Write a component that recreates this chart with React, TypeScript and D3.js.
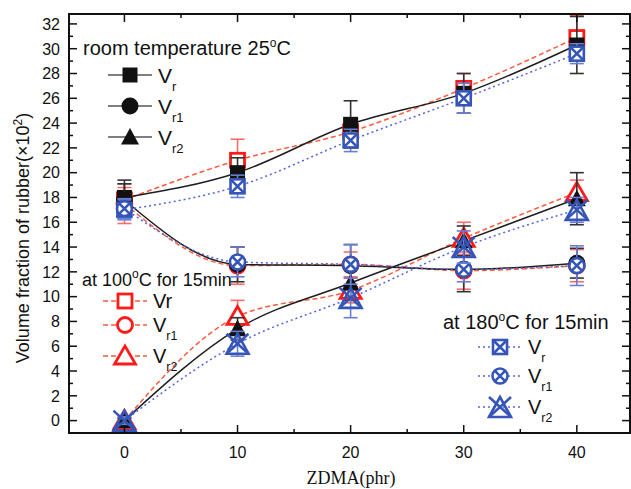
import React from "react";
import * as d3 from "d3";

// ZDMA loading (phr)
const zdma = [0, 10, 20, 30, 40];

// Room temperature 25 °C
const roomVr = [18.0, 20.0, 23.9, 26.4, 30.3];
const roomVrErr = [1.4, 1.2, 1.9, 1.6, 2.3];
const roomVr1 = [17.8, 12.6, 12.5, 12.2, 12.7];
const roomVr1Err = [1.3, 1.4, 1.7, 1.8, 1.2];
const roomVr2 = [0, 7.4, 11.1, 14.5, 17.9];
const roomVr2Err = [0.2, 0.9, 1.4, 1.2, 2.1];

// 100 °C for 15 min
const t100Vr = [17.8, 21.0, 23.3, 26.8, 30.9];
const t100VrErr = [1.0, 1.7, 1.0, 1.2, 1.8];
const t100Vr1 = [17.5, 12.5, 12.6, 12.1, 12.5];
const t100Vr1Err = [1.6, 1.5, 1.0, 1.5, 1.3];
const t100Vr2 = [0, 8.4, 10.5, 14.7, 18.4];
const t100Vr2Err = [0.2, 1.3, 1.0, 1.3, 1.0];

// 180 °C for 15 min
const t180Vr = [17.0, 18.9, 22.6, 26.0, 29.6];
const t180VrErr = [0.8, 0.9, 0.9, 1.2, 0.8];
const t180Vr1 = [17.1, 12.8, 12.6, 12.2, 12.5];
const t180Vr1Err = [0.8, 1.2, 1.6, 1.0, 1.6];
const t180Vr2 = [0, 6.2, 9.9, 14.0, 17.0];
const t180Vr2Err = [0.3, 1.0, 1.6, 1.3, 1.0];

const yMajorTicks = d3.range(0, 33, 2);
const yMinorTicks = d3.range(-1, 33, 1).filter((v) => v % 2 !== 0);
const xMajorTicks = [0, 10, 20, 30, 40];
const xMinorTicks = [5, 15, 25, 35];

const FONT = "Arial, 'Liberation Sans', Helvetica, sans-serif";

const W = 631;
const H = 489;
const left = 69;
const right = 630;
const top = 14;
const bottom = 433;

const x = d3.scaleLinear().domain([-4.9, 44.7]).range([left, right]);
const y = d3.scaleLinear().domain([-1, 32.8]).range([bottom, top]);

type Kind = "sq" | "ci" | "tr";
type Style = "black" | "red" | "blue";

const lineColor: Record<Style, string> = { black: "#1e1e1e", red: "#ff5a3c", blue: "#5566dd" };
const lineDash: Record<Style, string | undefined> = { black: undefined, red: "5,3", blue: "2,3" };
const errColor: Record<Style, string> = { black: "#333", red: "#ff6b6b", blue: "#6a7ed6" };
const markColor: Record<Style, string> = { black: "#111", red: "#ff1a1a", blue: "#3556b8" };

function Marker({ kind, style, cx, cy }: { kind: Kind; style: Style; cx: number; cy: number }) {
  const c = markColor[style];
  if (style === "black") {
    if (kind === "sq") return <rect x={cx - 7.5} y={cy - 7.5} width={15} height={15} fill={c} />;
    if (kind === "ci") return <circle cx={cx} cy={cy} r={8.5} fill={c} />;
    return <path d={`M${cx - 9},${cy + 7.5} L${cx + 9},${cy + 7.5} L${cx},${cy - 9} Z`} fill={c} />;
  }
  if (style === "red") {
    if (kind === "sq")
      return <rect x={cx - 7} y={cy - 7} width={14} height={14} fill="#fff" stroke={c} strokeWidth={2.8} />;
    if (kind === "ci") return <circle cx={cx} cy={cy} r={7.5} fill="#fff" stroke={c} strokeWidth={2.8} />;
    return (
      <path
        d={`M${cx - 10.5},${cy + 8} L${cx + 10.5},${cy + 8} L${cx},${cy - 10} Z`}
        fill="#fff"
        stroke={c}
        strokeWidth={2.8}
        strokeLinejoin="miter"
      />
    );
  }
  // blue: crossed markers
  if (kind === "sq") {
    const h = 7;
    return (
      <g stroke={c} strokeWidth={2.6} fill="#fff">
        <rect x={cx - h} y={cy - h} width={2 * h} height={2 * h} />
        <path d={`M${cx - h},${cy - h} L${cx + h},${cy + h} M${cx + h},${cy - h} L${cx - h},${cy + h}`} />
      </g>
    );
  }
  if (kind === "ci") {
    const r = 7.5;
    const d = r * Math.SQRT1_2;
    return (
      <g stroke={c} strokeWidth={2.6} fill="#fff">
        <circle cx={cx} cy={cy} r={r} />
        <path d={`M${cx - d},${cy - d} L${cx + d},${cy + d} M${cx + d},${cy - d} L${cx - d},${cy + d}`} />
      </g>
    );
  }
  const w = 11;
  const hh = 10;
  return (
    <g stroke={c} strokeWidth={2.6} fill="none">
      <path d={`M${cx - w},${cy + hh} L${cx + w},${cy + hh} L${cx},${cy - hh} Z`} />
      <path d={`M${cx - w},${cy - hh} L${cx + w},${cy + hh} M${cx + w},${cy - hh} L${cx - w},${cy + hh}`} />
    </g>
  );
}

type Series = { kind: Kind; style: Style; values: number[]; errs: number[] };

const seriesList: Series[] = [
  { kind: "sq", style: "red", values: t100Vr, errs: t100VrErr },
  { kind: "ci", style: "red", values: t100Vr1, errs: t100Vr1Err },
  { kind: "tr", style: "red", values: t100Vr2, errs: t100Vr2Err },
  { kind: "sq", style: "black", values: roomVr, errs: roomVrErr },
  { kind: "ci", style: "black", values: roomVr1, errs: roomVr1Err },
  { kind: "tr", style: "black", values: roomVr2, errs: roomVr2Err },
  { kind: "sq", style: "blue", values: t180Vr, errs: t180VrErr },
  { kind: "ci", style: "blue", values: t180Vr1, errs: t180Vr1Err },
  { kind: "tr", style: "blue", values: t180Vr2, errs: t180Vr2Err },
];

const lineGen = d3
  .line<[number, number]>()
  .x((d) => x(d[0]))
  .y((d) => y(d[1]))
  .curve(d3.curveMonotoneX);

function LegendRow({
  kind,
  style,
  ly,
  x0,
  x1,
  label,
  sub,
  fs,
}: {
  kind: Kind;
  style: Style;
  ly: number;
  x0: number;
  x1: number;
  label: string;
  sub?: string;
  fs: number;
}) {
  const mx = (x0 + x1) / 2;
  return (
    <g>
      <line
        x1={x0}
        x2={x1}
        y1={ly}
        y2={ly}
        stroke={style === "black" ? "#555" : lineColor[style]}
        strokeWidth={1.6}
        strokeDasharray={lineDash[style]}
      />
      <Marker kind={kind} style={style} cx={mx} cy={ly} />
      <text x={x1 + 6} y={ly + fs * 0.36} fontSize={fs} fontFamily={FONT} fill="#111">
        {label}
        {sub && (
          <tspan fontSize={fs * 0.62} dy={fs * 0.38}>
            {sub}
          </tspan>
        )}
      </text>
    </g>
  );
}

export default function App() {
  return (
    <svg
      width={W}
      height={H}
      viewBox={`0 0 ${W} ${H}`}
      style={{ position: "absolute", left: 0, top: 0, background: "#fff" }}
    >
      <rect x={0} y={0} width={W} height={H} fill="#fff" />

      {/* data lines */}
      {seriesList.map((s, i) => (
        <path
          key={`l${i}`}
          d={lineGen(zdma.map((z, k) => [z, s.values[k]] as [number, number])) || ""}
          fill="none"
          stroke={lineColor[s.style]}
          strokeWidth={1.5}
          strokeDasharray={lineDash[s.style]}
        />
      ))}

      {/* error bars and markers */}
      {seriesList.map((s, i) => (
        <g key={`m${i}`}>
          {zdma.map((z, k) => {
            const cx = x(z);
            const hi = y(s.values[k] + s.errs[k]);
            const lo = y(s.values[k] - s.errs[k]);
            const c = errColor[s.style];
            return (
              <g key={k} stroke={c} strokeWidth={1.6}>
                <line x1={cx} x2={cx} y1={hi} y2={lo} />
                <line x1={cx - 7} x2={cx + 7} y1={hi} y2={hi} />
                <line x1={cx - 7} x2={cx + 7} y1={lo} y2={lo} />
              </g>
            );
          })}
          {zdma.map((z, k) => (
            <Marker key={k} kind={s.kind} style={s.style} cx={x(z)} cy={y(s.values[k])} />
          ))}
        </g>
      ))}

      {/* frame */}
      <rect x={left} y={top} width={right - left} height={bottom - top} fill="none" stroke="#111" strokeWidth={2} />

      {/* y ticks, left and right */}
      {yMajorTicks.map((v) => (
        <g key={`ym${v}`} stroke="#111" strokeWidth={1.5}>
          <line x1={left} x2={left + 8} y1={y(v)} y2={y(v)} />
          <line x1={right} x2={right - 8} y1={y(v)} y2={y(v)} />
        </g>
      ))}
      {yMinorTicks.map((v) => (
        <g key={`yn${v}`} stroke="#111" strokeWidth={1.5}>
          <line x1={left} x2={left + 4} y1={y(v)} y2={y(v)} />
          <line x1={right} x2={right - 4} y1={y(v)} y2={y(v)} />
        </g>
      ))}
      {yMajorTicks.map((v) => (
        <text
          key={`yl${v}`}
          x={60}
          y={y(v) + 5.8}
          textAnchor="end"
          fontSize={16}
          fontFamily={FONT}
          fill="#111"
        >
          {v}
        </text>
      ))}

      {/* x ticks, bottom and top */}
      {xMajorTicks.map((v) => (
        <g key={`xm${v}`} stroke="#111" strokeWidth={1.5}>
          <line x1={x(v)} x2={x(v)} y1={bottom} y2={bottom - 8} />
          <line x1={x(v)} x2={x(v)} y1={top} y2={top + 8} />
        </g>
      ))}
      {xMinorTicks.map((v) => (
        <g key={`xn${v}`} stroke="#111" strokeWidth={1.5}>
          <line x1={x(v)} x2={x(v)} y1={bottom} y2={bottom - 4} />
          <line x1={x(v)} x2={x(v)} y1={top} y2={top + 4} />
        </g>
      ))}
      {xMajorTicks.map((v) => (
        <text
          key={`xl${v}`}
          x={x(v)}
          y={458}
          textAnchor="middle"
          fontSize={16}
          fontFamily={FONT}
          fill="#111"
        >
          {v}
        </text>
      ))}

      {/* axis titles */}
      <text
        x={351}
        y={484}
        textAnchor="middle"
        fontSize={18}
        fontFamily="'Times New Roman', 'Liberation Serif', serif"
        fill="#111"
      >
        ZDMA(phr)
      </text>
      <text
        transform={`translate(29,238) rotate(-90)`}
        textAnchor="middle"
        fontSize={18}
        fontFamily={FONT}
        fill="#111"
      >
        Volume fraction of rubber(×10
        <tspan fontSize={12} dy={-7}>
          2
        </tspan>
        <tspan dy={7}>)</tspan>
      </text>

      {/* legend: room temperature */}
      <text x={83} y={55} fontSize={20} fontFamily={FONT} fill="#111">
        room temperature 25
        <tspan fontSize={12} dy={-8}>
          o
        </tspan>
        <tspan dy={8}>C</tspan>
      </text>
      <LegendRow kind="sq" style="black" ly={75} x0={108} x1={152} label="V" sub="r" fs={21} />
      <LegendRow kind="ci" style="black" ly={106} x0={108} x1={152} label="V" sub="r1" fs={21} />
      <LegendRow kind="tr" style="black" ly={137} x0={108} x1={152} label="V" sub="r2" fs={21} />

      {/* legend: 100 °C */}
      <text x={82} y={286} fontSize={18} fontFamily={FONT} fill="#111">
        at 100
        <tspan fontSize={12} dy={-8}>
          o
        </tspan>
        <tspan dy={8}>C for 15min</tspan>
      </text>
      <LegendRow kind="sq" style="red" ly={301} x0={103} x1={147} label="Vr" fs={20} />
      <LegendRow kind="ci" style="red" ly={325} x0={103} x1={147} label="V" sub="r1" fs={20} />
      <LegendRow kind="tr" style="red" ly={356} x0={103} x1={147} label="V" sub="r2" fs={20} />

      {/* legend: 180 °C */}
      <text x={443} y={329} fontSize={20} fontFamily={FONT} fill="#111">
        at 180
        <tspan fontSize={12} dy={-8}>
          o
        </tspan>
        <tspan dy={8}>C for 15min</tspan>
      </text>
      <LegendRow kind="sq" style="blue" ly={347} x0={478} x1={522} label="V" sub="r" fs={20} />
      <LegendRow kind="ci" style="blue" ly={376} x0={478} x1={522} label="V" sub="r1" fs={20} />
      <LegendRow kind="tr" style="blue" ly={407} x0={478} x1={522} label="V" sub="r2" fs={20} />
    </svg>
  );
}
